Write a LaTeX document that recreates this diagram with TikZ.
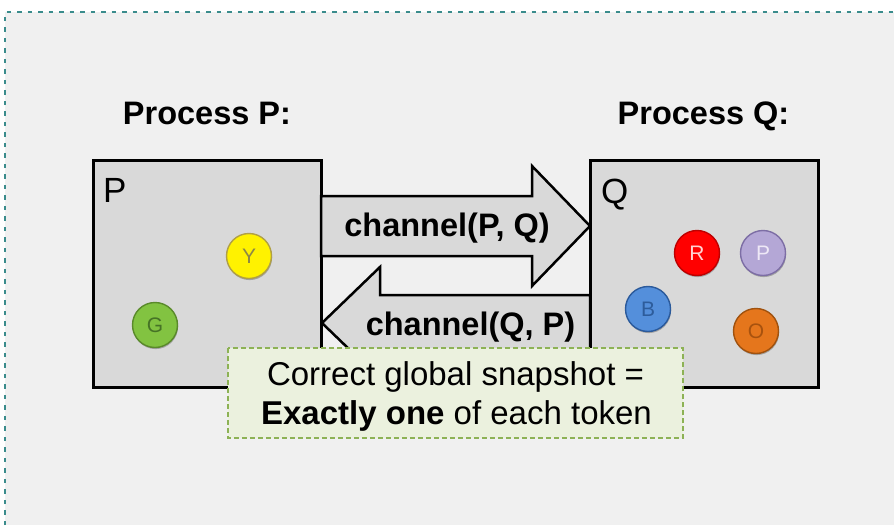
\documentclass[tikz,border=0pt]{standalone}
\usepackage{fontspec}
\setmainfont{Liberation Sans}
\usetikzlibrary{shadows}

\definecolor{pagebg}{HTML}{F0F0F0}
\definecolor{framecol}{HTML}{3A8C8C}
\definecolor{boxgray}{HTML}{D9D9D9}
\definecolor{notefill}{HTML}{EBF1DE}
\definecolor{notedraw}{HTML}{8DB255}

\tikzset{
  procbox/.style={draw=black, line width=3pt, fill=boxgray},
  chanarrow/.style={draw=black, line width=2.5pt, fill=boxgray, line join=miter},
  txt/.style={inner sep=0pt, anchor=base},
  heading/.style={txt, font=\fontsize{32.5}{36}\selectfont\bfseries},
  chanlabel/.style={txt, font=\fontsize{32.5}{36}\selectfont\bfseries},
  boxletter/.style={txt, anchor=base west, font=\fontsize{35}{38}\selectfont},
  token/.style={circle, minimum size=45pt, inner sep=0pt, line width=1.4pt,
    font=\fontsize{21}{21}\selectfont,
    drop shadow={shadow xshift=0.6pt, shadow yshift=-1.6pt, opacity=0.25, fill=black}},
  notebox/.style={draw=notedraw, fill=notefill, line width=1.8pt,
    dash pattern=on 5pt off 3pt},
  notetext/.style={txt, font=\fontsize{33}{38}\selectfont}
}

\begin{document}
\begin{tikzpicture}[x=1pt, y=-1pt]
  \useasboundingbox (0,0) rectangle (894,525);

  % canvas with dotted frame
  \fill[pagebg] (5,12) rectangle (894,525);
  \draw[framecol, line width=2pt, dash pattern=on 4.5pt off 6pt]
    (5,525) -- (5,12) -- (894,12);

  % headings
  \node[heading] (hP) at (207,124) {Process P:};
  \node[heading] (hQ) at (703.5,124) {Process Q:};

  % process boxes
  \draw[procbox] (93,160) rectangle (321,387);
  \draw[procbox] (590,160) rectangle (818,387);
  \node[boxletter] (lP) at (103,202) {P};
  \node[boxletter] (lQ) at (601,203) {Q};

  % channel P -> Q
  \draw[chanarrow] (321,196) -- (532,196) -- (532,166) -- (590,226)
    -- (532,286) -- (532,256) -- (321,256) -- cycle;
  \node[chanlabel] (cPQ) at (447,236) {channel(P, Q)};

  % channel Q -> P
  \draw[chanarrow] (590,295) -- (380,295) -- (380,267) -- (322,323)
    -- (380,379) -- (380,351) -- (590,351) -- cycle;
  \node[chanlabel] (cQP) at (470.5,335) {channel(Q, P)};

  % tokens held by P
  \node[token, fill=yellow, draw={rgb,255:red,176;green,160;blue,70}, text={rgb,255:red,140;green,135;blue,70}] (tY) at (249,256) {Y};
  \node[token, fill={rgb,255:red,130;green,195;blue,65}, draw={rgb,255:red,90;green,138;blue,43}, text={rgb,255:red,70;green,115;blue,38}] (tG) at (155,325) {G};

  % tokens held by Q
  \node[token, fill=red, draw={rgb,255:red,190;green,0;blue,0}, text={rgb,255:red,255;green,210;blue,210}] (tR) at (697,253) {R};
  \node[token, fill={rgb,255:red,180;green,167;blue,214}, draw={rgb,255:red,125;green,110;blue,165}, text={rgb,255:red,238;green,232;blue,246}] (tPu) at (763,253) {P};
  \node[token, fill={rgb,255:red,84;green,143;blue,219}, draw={rgb,255:red,43;green,90;blue,155}, text={rgb,255:red,45;green,92;blue,155}] (tB) at (648,309) {B};
  \node[token, fill={rgb,255:red,229;green,118;blue,28}, draw={rgb,255:red,160;green,82;blue,15}, text={rgb,255:red,168;green,82;blue,14}] (tO) at (756,331) {O};

  % annotation
  \draw[notebox] (228,348) rectangle (683,438);
  \node[notetext] (n1) at (455.5,385) {Correct global snapshot =};
  \node[notetext] (n2) at (456.5,424) {\textbf{Exactly one} of each token};
\end{tikzpicture}
\end{document}
